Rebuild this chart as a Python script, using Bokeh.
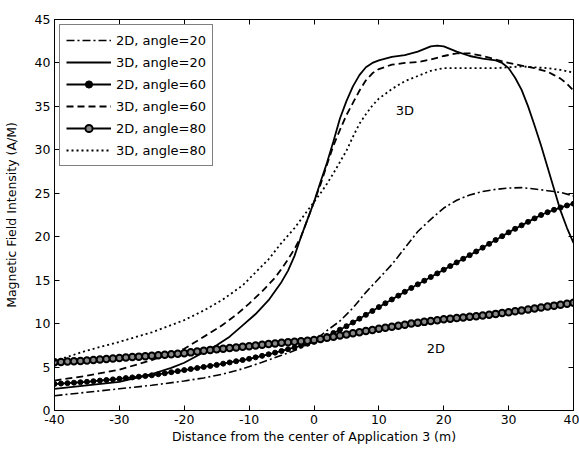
from bokeh.plotting import figure
from bokeh.models import (Legend, LegendItem, LinearAxis, FixedTicker, Label, Range1d,
                          CustomLabelingPolicy)
from bokeh.embed import file_html
from bokeh.resources import INLINE

FONT = "DejaVu Sans"

# ticks and tick labels
x_ticks = [-40, -30, -20, -10, 0, 10, 20, 30, 40]
x_tick_labels = ["-40", "-30", "-20", "-10", "0", "10", "20", "30", "40"]
y_ticks = [0, 5, 10, 15, 20, 25, 30, 35, 40, 45]
y_tick_labels = ["0", "5", "10", "15", "20", "25", "30", "35", "40", "45"]

# 2D, angle=20 (dash-dot)
x_2d20 = [-40, -35, -30, -25, -20, -17, -14, -11, -8, -5, -3, -1, 0, 1, 2, 4, 6, 8, 10, 12,
          14, 16, 18, 20, 22, 24, 26, 28, 30, 32, 34, 36, 38, 40]
y_2d20 = [1.7, 2.1, 2.5, 2.9, 3.4, 3.75, 4.2, 4.8, 5.55, 6.35, 6.9, 7.6, 8.0, 8.6, 9.2, 10.3, 11.8, 13.6, 15.2, 16.8,
          18.7, 20.6, 22.0, 23.3, 24.2, 24.8, 25.2, 25.45, 25.6, 25.65, 25.5, 25.3, 25.1, 24.7]

# 3D, angle=20 (solid)
x_3d20 = [-40, -35, -30, -25, -22, -20, -17, -15, -13, -11, -9, -7, -5, -4, -3, -2, -1, 0, 1, 2,
          3, 4, 5, 6, 7, 8, 9, 10, 12, 14, 16, 18, 19, 20, 22, 24, 26, 28, 29, 30,
          31, 32, 33, 34, 35, 36, 37, 38, 39, 40]
y_3d20 = [2.5, 2.9, 3.3, 4.2, 4.9, 5.5, 6.7, 7.5, 8.5, 9.8, 11.1, 12.7, 14.8, 16.1, 17.8, 20.0, 22.0, 24.0, 26.3, 28.5,
          31.0, 33.6, 35.6, 37.3, 38.6, 39.5, 40.0, 40.3, 40.7, 40.9, 41.3, 41.9, 42.0, 41.9, 41.3, 40.8, 40.5, 40.3, 40.0, 39.4,
          38.3, 36.9, 35.0, 32.8, 30.5, 28.0, 25.5, 23.0, 21.0, 19.3]

# marker series x positions
x_mk = list(range(-40, 41))

# 2D, angle=60 (line with small dots)
y_2d60 = [3.05, 3.10, 3.15, 3.20, 3.25, 3.30, 3.37, 3.44, 3.51, 3.58,
          3.65, 3.73, 3.81, 3.89, 3.97, 4.05, 4.17, 4.29, 4.41, 4.53,
          4.65, 4.77, 4.89, 5.01, 5.13, 5.25, 5.39, 5.53, 5.67, 5.81,
          5.95, 6.12, 6.29, 6.47, 6.66, 6.85, 7.05, 7.25, 7.46, 7.68,
          7.90, 8.23, 8.57, 8.92, 9.30, 9.70, 10.13, 10.57, 11.01, 11.45,
          11.90, 12.34, 12.78, 13.22, 13.66, 14.10, 14.52, 14.94, 15.36, 15.78,
          16.20, 16.62, 17.04, 17.46, 17.88, 18.30, 18.74, 19.18, 19.62, 20.06,
          20.50, 20.91, 21.31, 21.71, 22.11, 22.50, 22.82, 23.10, 23.36, 23.60,
          23.80]

# 3D, angle=60 (dashed)
x_3d60 = [-40, -35, -30, -25, -20, -15, -14, -12, -10, -8, -6, -5, -4, -3, -2, -1, 0, 1, 2, 3,
          4, 5, 6, 7, 8, 9, 10, 12, 14, 16, 18, 20, 22, 24, 26, 28, 30, 32, 34, 36,
          37, 38, 39, 40]
y_3d60 = [3.45, 4.0, 4.7, 5.8, 7.1, 9.4, 9.9, 11.0, 12.3, 13.7, 15.3, 16.3, 17.4, 18.6, 20.0, 22.0, 24.0, 26.0, 28.3, 30.5,
          32.3, 34.0, 35.4, 36.8, 38.0, 38.8, 39.3, 39.8, 40.0, 40.1, 40.4, 40.8, 41.1, 41.1, 40.8, 40.4, 40.0, 39.7, 39.4, 39.0,
          38.6, 38.2, 37.6, 36.8]

# 2D, angle=80 (line with circles)
y_2d80 = [5.55, 5.59, 5.63, 5.67, 5.71, 5.75, 5.81, 5.87, 5.93, 5.99,
          6.05, 6.10, 6.15, 6.20, 6.25, 6.30, 6.36, 6.42, 6.48, 6.54,
          6.60, 6.69, 6.78, 6.87, 6.96, 7.05, 7.12, 7.19, 7.26, 7.33,
          7.40, 7.48, 7.56, 7.64, 7.72, 7.80, 7.86, 7.92, 7.98, 8.04,
          8.10, 8.23, 8.36, 8.49, 8.62, 8.75, 8.88, 9.01, 9.14, 9.27,
          9.40, 9.52, 9.64, 9.76, 9.88, 10.00, 10.10, 10.20, 10.30, 10.40,
          10.50, 10.57, 10.64, 10.71, 10.78, 10.85, 10.94, 11.03, 11.12, 11.21,
          11.30, 11.41, 11.52, 11.63, 11.74, 11.85, 11.96, 12.07, 12.18, 12.29,
          12.40]

# 3D, angle=80 (dotted)
x_3d80 = [-40, -35, -30, -25, -20, -17, -14, -11, -9, -7, -5, -3, -1, 0, 1, 2, 3, 4, 5, 6,
          7, 8, 9, 10, 12, 14, 16, 18, 20, 22, 24, 26, 28, 30, 32, 34, 36, 38, 40]
y_3d80 = [5.7, 6.9, 7.9, 9.0, 10.4, 11.5, 12.8, 14.4, 15.9, 17.4, 19.3, 21.0, 23.0, 24.0, 25.0, 26.1, 27.3, 28.6, 29.9, 31.5,
          33.0, 34.1, 35.1, 35.9, 37.0, 37.9, 38.5, 39.1, 39.4, 39.4, 39.4, 39.4, 39.4, 39.5, 39.6, 39.5, 39.4, 39.2, 38.9]

labels = ["2D, angle=20", "3D, angle=20", "2D, angle=60", "3D, angle=60", "2D, angle=80", "3D, angle=80"]

p = figure(width=579, height=450, output_backend="svg", toolbar_location=None,
           x_range=Range1d(-40, 40), y_range=Range1d(0, 45),
           min_border_left=54, min_border_right=6, min_border_top=19, min_border_bottom=40)
p.background_fill_color = "white"
p.border_fill_color = "white"
p.outline_line_color = "black"
p.outline_line_width = 1
p.xgrid.visible = False
p.ygrid.visible = False

p.xaxis.ticker = FixedTicker(ticks=x_ticks)
p.yaxis.ticker = FixedTicker(ticks=y_ticks)
p.xaxis.major_label_overrides = dict(zip(x_ticks, x_tick_labels))
p.yaxis.major_label_overrides = dict(zip(y_ticks, y_tick_labels))
for ax in (p.xaxis[0], p.yaxis[0]):
    ax.major_tick_in = 5
    ax.major_tick_out = 0
    ax.minor_tick_line_color = None
    ax.axis_line_color = "black"
    ax.major_tick_line_color = "black"
    ax.major_label_text_font = FONT
    ax.major_label_text_font_size = "12.5px"
    ax.major_label_text_color = "black"
    ax.axis_label_text_font = FONT
    ax.axis_label_text_font_size = "12.5px"
    ax.axis_label_text_font_style = "normal"
    ax.axis_label_text_color = "black"
p.xaxis.axis_label = "Distance from the center of Application 3 (m)"
p.yaxis.axis_label = "Magnetic Field Intensity (A/M)"
p.xaxis.major_label_standoff = 4
p.xaxis.axis_label_standoff = 2
p.yaxis.major_label_standoff = 4
p.yaxis.axis_label_standoff = 13

no_labels = CustomLabelingPolicy(code="return new Set()")
top_ax = LinearAxis(ticker=FixedTicker(ticks=x_ticks), major_label_policy=no_labels,
                    major_label_text_font_size="1px",
                    major_tick_in=5, major_tick_out=0, minor_tick_line_color=None,
                    major_label_standoff=0, axis_line_color="black")
right_ax = LinearAxis(ticker=FixedTicker(ticks=y_ticks), major_label_policy=no_labels,
                      major_label_text_font_size="1px",
                      major_tick_in=5, major_tick_out=0, minor_tick_line_color=None,
                      major_label_standoff=0, axis_line_color="black")
p.add_layout(top_ax, "above")
p.add_layout(right_ax, "right")

r1 = p.line(x_2d20, y_2d20, line_color="black", line_width=1.6, line_dash="8 3 2 3")
r2 = p.line(x_3d20, y_3d20, line_color="black", line_width=1.8)
r3a = p.line(x_mk, y_2d60, line_color="black", line_width=1.8)
r3b = p.scatter(x_mk, y_2d60, marker="circle", size=5, fill_color="black", line_color="black")
r4 = p.line(x_3d60, y_3d60, line_color="black", line_width=1.8, line_dash="7 4")
r5a = p.line(x_mk, y_2d80, line_color="black", line_width=1.8)
r5b = p.scatter(x_mk, y_2d80, marker="circle", size=6.5, fill_color="#888888", line_color="black", line_width=2)
r6 = p.line(x_3d80, y_3d80, line_color="black", line_width=1.8, line_dash="2 3")

items = [
    LegendItem(label=labels[0], renderers=[r1]),
    LegendItem(label=labels[1], renderers=[r2]),
    LegendItem(label=labels[2], renderers=[r3a, r3b]),
    LegendItem(label=labels[3], renderers=[r4]),
    LegendItem(label=labels[4], renderers=[r5a, r5b]),
    LegendItem(label=labels[5], renderers=[r6]),
]
legend = Legend(items=items, location="top_left", border_line_color="black", border_line_width=1,
                label_text_font=FONT, label_text_font_size="13px", label_text_color="black",
                glyph_width=45, glyph_height=18, label_height=18, spacing=4, padding=6,
                margin=5, label_standoff=5, background_fill_color="white", background_fill_alpha=1)
p.add_layout(legend)

p.add_layout(Label(x=14.0, y=34.5, text="3D", text_align="center", text_baseline="middle",
                   text_font=FONT, text_font_size="13px", text_color="black"))
p.add_layout(Label(x=18.8, y=7.1, text="2D", text_align="center", text_baseline="middle",
                   text_font=FONT, text_font_size="13px", text_color="black"))

open("out.html", "w").write(file_html(p, INLINE))
